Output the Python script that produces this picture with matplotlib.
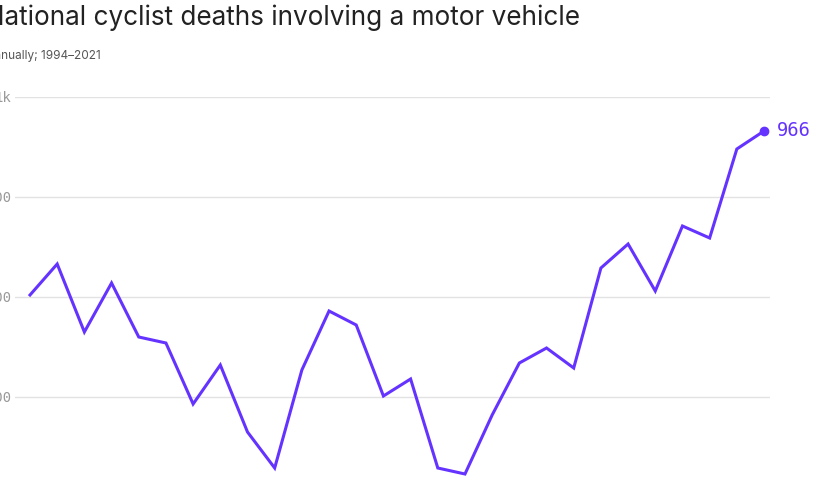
import matplotlib
matplotlib.use("Agg")
import matplotlib.pyplot as plt

# annual cyclist deaths involving a motor vehicle
years = list(range(1994, 2022))
deaths = [802, 833, 765, 814, 760, 754, 693, 732, 665, 629,
          727, 786, 772, 701, 718, 629, 623, 682, 734, 749,
          729, 829, 853, 806, 871, 859, 948, 966]
grid_vals = [600, 700, 800, 900, 1000]
ytick_vals = [700, 800, 900, 1000]
ytick_labels = ["700", "800", "900", "1k"]

line_color = "#6533ff"
W, H = 820, 480

fig = plt.figure(figsize=(W / 100, H / 100), dpi=100)

# axes spans pixel 15..770 horizontally, 97..497 vertically (runs off the bottom)
ax = fig.add_axes([15 / W, 1 - 497 / H, 755 / W, 400 / H])
ax.set_xlim(1993.448, 2021.22)
ax.set_ylim(600, 1000)

ax.plot(years, deaths, color=line_color, lw=2.2, solid_joinstyle="miter", clip_on=False)
ax.plot(years[-1], deaths[-1], "o", color=line_color, ms=6, clip_on=False)
ax.annotate(str(deaths[-1]), (years[-1], deaths[-1]), xytext=(9, 0),
            textcoords="offset points", va="center", ha="left",
            color=line_color, fontsize=13.5, family="DejaVu Sans Mono",
            annotation_clip=False)

for v in grid_vals:
    ax.axhline(v, color="#e2e2e2", lw=1, zorder=0)

ax.set_yticks(ytick_vals)
ax.set_yticklabels(ytick_labels, family="DejaVu Sans Mono", fontsize=10, color="#999999")
ax.tick_params(axis="y", length=0, pad=3)
ax.set_xticks([])
for s in ax.spines.values():
    s.set_visible(False)

fig.text(-15 / W, 1 - 18 / H, "National cyclist deaths involving a motor vehicle",
         fontsize=18.8, family="Inter", color="#222222", va="center", ha="left")
fig.text(-14 / W, 1 - 56 / H, "Annually; 1994–2021",
         fontsize=8.5, family="Inter", color="#555555", va="center", ha="left")

fig.savefig("out.png", dpi=100)
